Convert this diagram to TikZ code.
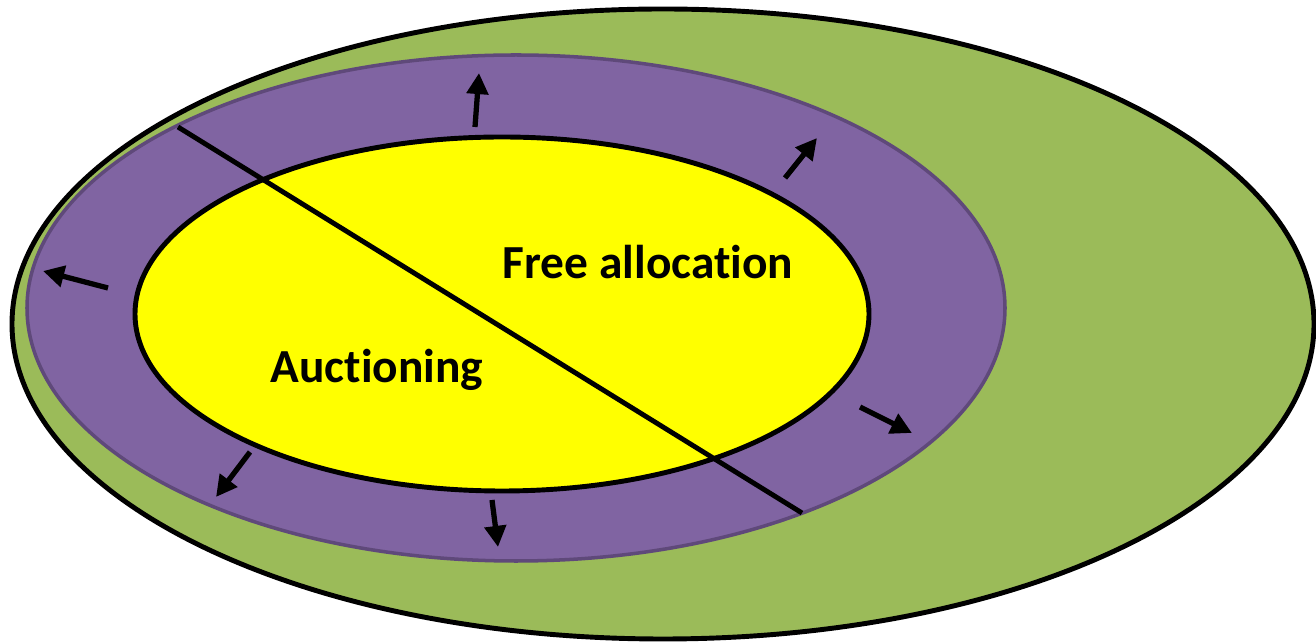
\documentclass[tikz,border=0pt]{standalone}
\usepackage{fontspec}
\setmainfont[Ligatures={NoCommon}]{Carlito}
\usetikzlibrary{arrows.meta}
\definecolor{ringgreen}{HTML}{9BBB59}
\definecolor{ringpurple}{HTML}{8064A2}
\definecolor{ringpurpleedge}{HTML}{5F497A}
\definecolor{coreyellow}{HTML}{FFFF00}
\tikzset{
  outerzone/.style={fill=ringgreen, draw=black, line width=2.8pt},
  midzone/.style={fill=ringpurple, draw=ringpurpleedge, line width=2pt},
  innerzone/.style={fill=coreyellow, draw=black, line width=2.8pt},
  divider/.style={draw=black, line width=2.8pt},
  growth/.style={draw=black, line width=3pt, -{Triangle[length=12pt,width=12pt]}},
  zonelabel/.style={font=\bfseries\fontsize{27}{32}\selectfont, text=black, inner sep=0pt}
}
\begin{document}
\begin{tikzpicture}[x=0.02cm, y=-0.02cm]
  \useasboundingbox (0,0) rectangle (1316,644);
  % nested allocation zones
  \draw[outerzone] (663,324) ellipse [x radius=651, y radius=315];
  \draw[midzone] (516,308) ellipse [x radius=489, y radius=253];
  \draw[innerzone] (502,314) ellipse [x radius=367, y radius=177];
  % split between the two allocation methods
  \coordinate (splitA) at (178,127);
  \coordinate (splitB) at (802,513);
  \draw[divider] (splitA) -- (splitB);
  % expansion arrows around the ring
  \coordinate (a1s) at (475,127); \coordinate (a1e) at (479,73);
  \coordinate (a2s) at (785,178); \coordinate (a2e) at (817,138);
  \coordinate (a3s) at (108,288); \coordinate (a3e) at (43,271);
  \coordinate (a4s) at (860,407); \coordinate (a4e) at (912,433);
  \coordinate (a5s) at (250,452); \coordinate (a5e) at (216,497);
  \coordinate (a6s) at (492,500); \coordinate (a6e) at (498,547);
  \foreach \s/\e in {a1s/a1e,a2s/a2e,a3s/a3e,a4s/a4e,a5s/a5e,a6s/a6e}
    \draw[growth] (\s) -- (\e);
  % labels
  \node[zonelabel] (free) at (648,262) {Free allocation};
  \node[zonelabel] (auction) at (377,370) {Auctioning};
\end{tikzpicture}
\end{document}
